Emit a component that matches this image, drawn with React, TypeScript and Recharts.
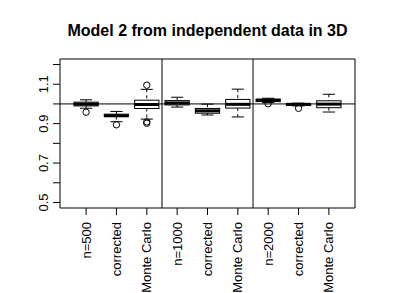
import React from "react";
import {
  ComposedChart,
  Bar,
  XAxis,
  YAxis,
  ReferenceLine,
  ReferenceArea,
} from "recharts";

// box plot summaries
const labels = [
  "n=500", "corrected", "Monte Carlo",
  "n=1000", "corrected", "Monte Carlo",
  "n=2000", "corrected", "Monte Carlo",
];
const positions = [1, 2, 3, 4, 5, 6, 7, 8, 9];
const lower = [0.978, 0.91, 0.923, 0.984, 0.944, 0.934, 1.007, 0.99, 0.959];
const q1 = [0.99, 0.936, 0.977, 0.995, 0.953, 0.979, 1.012, 0.993, 0.981];
const median = [0.999, 0.94, 0.997, 1.005, 0.965, 0.998, 1.019, 0.998, 0.999];
const q3 = [1.009, 0.948, 1.019, 1.017, 0.977, 1.023, 1.024, 1.001, 1.016];
const upper = [1.021, 0.962, 1.074, 1.034, 0.999, 1.075, 1.029, 1.004, 1.049];
const outliers = [
  [0.958], [0.894], [1.095, 0.909, 0.902],
  [], [], [],
  [1.001], [0.978], [],
];

const yTicks = [0.5, 0.6, 0.7, 0.8, 0.9, 1.0, 1.1, 1.2];
const yLabelled = [0.5, 0.7, 0.9, 1.1];

const data = positions.map((pos, i) => ({
  pos,
  lo: lower[i],
  q1: q1[i],
  med: median[i],
  q3: q3[i],
  hi: upper[i],
  out: outliers[i],
}));

const FONT = "'Liberation Sans', Arial, Helvetica, sans-serif";

// draws one box from the bar's pixel box (q1..q3), using the same scale for the rest
const BoxShape = (props: any) => {
  const { x, y, width, height, payload } = props;
  const top = Math.min(y, y + height);
  const bottom = Math.max(y, y + height);
  const k = (bottom - top) / (payload.q3 - payload.q1);
  const py = (v: number) => top + (payload.q3 - v) * k;
  const cx = x + width / 2;
  const half = width / 4;
  return (
    <g stroke="#000" fill="none">
      <line x1={cx} x2={cx} y1={py(payload.hi)} y2={top} strokeDasharray="3 3" />
      <line x1={cx} x2={cx} y1={bottom} y2={py(payload.lo)} strokeDasharray="3 3" />
      <line x1={cx - half} x2={cx + half} y1={py(payload.hi)} y2={py(payload.hi)} />
      <line x1={cx - half} x2={cx + half} y1={py(payload.lo)} y2={py(payload.lo)} />
      <rect x={x} y={top} width={width} height={bottom - top} fill="#fff" />
      <line x1={x} x2={x + width} y1={py(payload.med)} y2={py(payload.med)} strokeWidth={3} />
      {payload.out.map((v: number, j: number) => (
        <circle key={j} cx={cx} cy={py(v)} r={3.2} fill="none" />
      ))}
    </g>
  );
};

const XTick = (props: any) => {
  const { x, y, payload } = props;
  const tx = x + 4.5;
  const ty = y + 5;
  return (
    <text
      x={tx}
      y={ty}
      transform={`rotate(-90 ${tx} ${ty})`}
      textAnchor="end"
      fontSize={13}
      fontFamily={FONT}
      fill="#000"
    >
      {labels[payload.value - 1]}
    </text>
  );
};

const YTick = (props: any) => {
  const { x, y, payload } = props;
  if (!yLabelled.some((v) => Math.abs(v - payload.value) < 1e-6)) return <g />;
  const tx = x - 3;
  return (
    <text
      x={tx}
      y={y}
      transform={`rotate(-90 ${tx} ${y})`}
      textAnchor="middle"
      fontSize={13}
      fontFamily={FONT}
      fill="#000"
    >
      {payload.value.toFixed(1)}
    </text>
  );
};

export default function App() {
  return (
    <div
      style={{
        position: "absolute",
        left: 0,
        top: 0,
        width: 415,
        height: 293,
        background: "#fff",
      }}
    >
      <div
        style={{
          position: "absolute",
          left: 40,
          width: 335,
          top: 23,
          textAlign: "center",
          fontFamily: FONT,
          fontWeight: "bold",
          fontSize: 16,
          lineHeight: "16px",
          color: "#000",
        }}
      >
        Model 2 from independent data in 3D
      </div>
      <ComposedChart
        width={415}
        height={293}
        data={data}
        margin={{ top: 59, right: 60, bottom: 0, left: 0 }}
      >
        <XAxis
          dataKey="pos"
          type="number"
          domain={[0.14, 9.86]}
          ticks={positions}
          allowDataOverflow
          height={85}
          tickSize={7}
          axisLine={false}
          tickLine={{ stroke: "#000" }}
          tick={<XTick />}
          interval={0}
        />
        <YAxis
          type="number"
          domain={[0.472, 1.228]}
          ticks={yTicks}
          allowDataOverflow
          width={60}
          tickSize={7}
          axisLine={false}
          tickLine={{ stroke: "#000" }}
          tick={<YTick />}
          interval={0}
        />
        <ReferenceLine y={1} stroke="#000" ifOverflow="visible" />
        <ReferenceLine x={3.5} stroke="#000" ifOverflow="visible" />
        <ReferenceLine x={6.5} stroke="#000" ifOverflow="visible" />
        <Bar
          dataKey={(d: any) => [d.q1, d.q3]}
          barSize={24.3}
          shape={<BoxShape />}
          isAnimationActive={false}
        />
        <ReferenceArea
          x1={0.14}
          x2={9.86}
          y1={0.472}
          y2={1.228}
          fill="none"
          stroke="#000"
          ifOverflow="visible"
        />
      </ComposedChart>
    </div>
  );
}
